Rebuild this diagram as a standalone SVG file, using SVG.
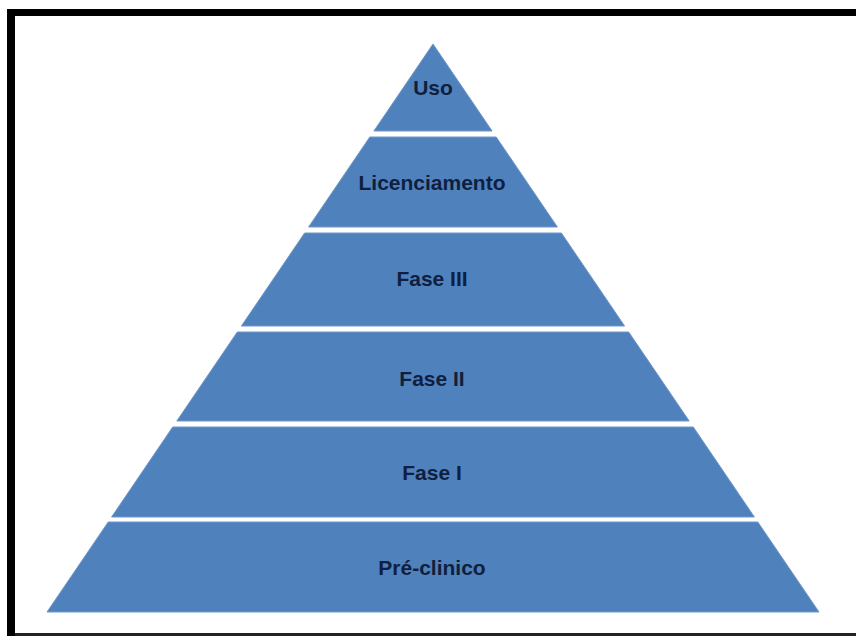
<svg xmlns="http://www.w3.org/2000/svg" width="856" height="636" viewBox="0 0 856 636">
<style>
.band{fill:#4f81bd;stroke:#6f97c9;stroke-width:1}
.lbl{font-family:"Liberation Sans",Arial,sans-serif;font-weight:bold;font-size:21px;fill:#0f1f3d;text-anchor:middle}
</style>
<rect x="0" y="0" width="856" height="636" fill="#ffffff"/>
<path d="M7,636 V9 H856 V16 H15 V636 Z" fill="#000000"/>
<rect x="15" y="633" width="841" height="3" fill="#222222"/>
<g id="uso"><polygon class="band" points="433,44 492.1,131 373.9,131"/><text class="lbl" x="433" y="95">Uso</text></g>
<g id="licenciamento"><polygon class="band" points="369.8,137 496.2,137 557.4,227 308.6,227"/><text class="lbl" x="432" y="190">Licenciamento</text></g>
<g id="fase3"><polygon class="band" points="304.6,233 561.4,233 624.6,326 241.4,326"/><text class="lbl" x="432" y="286">Fase III</text></g>
<g id="fase2"><polygon class="band" points="237.3,332 628.7,332 689.2,421 176.8,421"/><text class="lbl" x="432" y="386">Fase II</text></g>
<g id="fase1"><polygon class="band" points="172.7,427 693.3,427 754.4,517 111.6,517"/><text class="lbl" x="432" y="480">Fase I</text></g>
<g id="preclinico"><polygon class="band" points="108.2,522 757.8,522 819,612 47,612"/><text class="lbl" x="432" y="575">Pré-clinico</text></g>
<g id="connectors"></g>
</svg>
